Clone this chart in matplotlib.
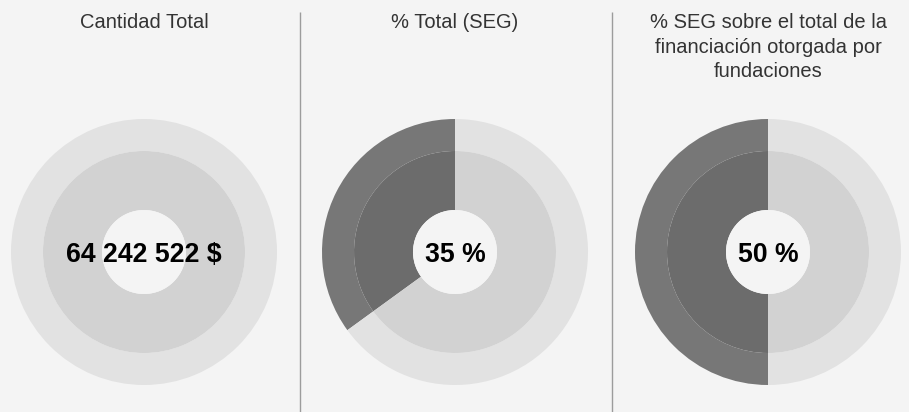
import matplotlib
matplotlib.use("Agg")
import matplotlib.pyplot as plt

# Panel content
titles = [
    "Cantidad Total",
    "% Total (SEG)",
    "% SEG sobre el total de la\nfinanciación otorgada por\nfundaciones",
]
total_amount = 64242522          # total funding, in $
seg_share = [35, 50]             # percentage shares for the 2nd and 3rd panels
# share of the dark wedge in each ring (first panel has no highlighted wedge)
shares = [0, seg_share[0], seg_share[1]]

def fmt_amount(v):
    return f"{v:,}".replace(",", " ") + " $"

labels = [fmt_amount(total_amount), f"{seg_share[0]} %", f"{seg_share[1]} %"]

# Styling
W, H = 909, 412
BG = "#f4f4f4"
OUTER_LIGHT = "#e2e2e2"
INNER_LIGHT = "#d2d2d2"
OUTER_DARK = "#777777"
INNER_DARK = "#6c6c6c"
SEP = "#9c9c9c"

centers_x = [144, 455, 768]
center_y = 252
r_outer, r_inner, r_hole = 133, 101, 42

fig = plt.figure(figsize=(W / 100, H / 100), dpi=100, facecolor=BG)
ax = fig.add_axes([0, 0, 1, 1])
ax.set_facecolor(BG)

def Y(y):
    # convert from top-down pixel rows to axis coordinates
    return H - y

for cx, share, title, label in zip(centers_x, shares, titles, labels):
    c = (cx, Y(center_y))
    vals = [share, 100 - share] if share > 0 else [100]
    outer_cols = [OUTER_DARK, OUTER_LIGHT] if share > 0 else [OUTER_LIGHT]
    inner_cols = [INNER_DARK, INNER_LIGHT] if share > 0 else [INNER_LIGHT]
    ax.pie(vals, center=c, radius=r_outer, startangle=90, counterclock=True,
           colors=outer_cols, normalize=True,
           wedgeprops=dict(width=r_outer - r_inner, linewidth=0))
    ax.pie(vals, center=c, radius=r_inner, startangle=90, counterclock=True,
           colors=inner_cols, normalize=True,
           wedgeprops=dict(width=r_inner - r_hole, linewidth=0))
    ax.add_patch(plt.Circle(c, r_hole, color=BG, linewidth=0, zorder=3))
    ax.text(cx, Y(262), label, ha="center", va="baseline",
            fontsize=19.2, fontweight="bold", family="Liberation Sans",
            color="#000000", zorder=4)
    ax.text(cx, Y(28), title.split("\n")[0], ha="center", va="baseline",
            fontsize=14.5, family="Liberation Sans", color="#333333")
    for i, line in enumerate(title.split("\n")[1:], start=1):
        ax.text(cx, Y(28 + 24.7 * i), line, ha="center", va="baseline",
                fontsize=14.5, family="Liberation Sans", color="#333333")

# vertical separators between panels
for sx in (300, 612):
    ax.plot([sx, sx], [Y(12), Y(H)], color=SEP, linewidth=1.0, solid_capstyle="butt")

ax.set_xlim(0, W)
ax.set_ylim(0, H)
ax.set_aspect("auto")
ax.axis("off")

fig.savefig("out.png", dpi=100, facecolor=BG)
